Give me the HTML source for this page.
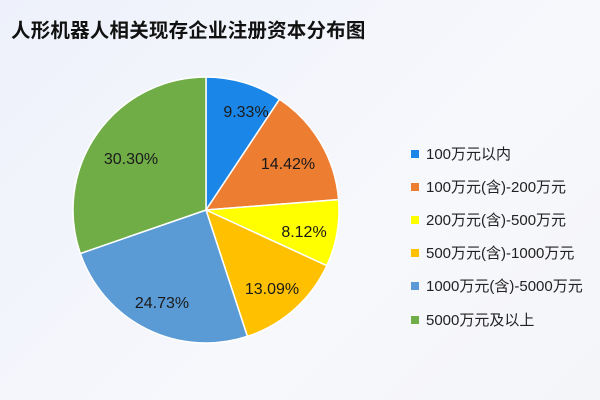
<!DOCTYPE html>
<html><head><meta charset="utf-8"><style>
body{margin:0;width:600px;height:400px;overflow:hidden;background:linear-gradient(135deg,#eef1fb,#f7f8fc 60%,#f4f5f8);font-family:"Liberation Sans","Noto Sans CJK SC",sans-serif;}
.t{position:absolute;left:11px;top:14px;font-size:19.5px;font-weight:bold;color:#111;letter-spacing:0.2px}
.lg{position:absolute;left:411px;font-size:15px;color:#222;line-height:16px}
.lg i{display:inline-block;width:8px;height:8px;margin-right:7px;vertical-align:1px}
</style></head><body>
<div class="t">人形机器人相关现存企业注册资本分布图</div>
<svg width="600" height="400" style="position:absolute;left:0;top:0" id="s">
<g id="p"></g>
<g font-size="16" fill="#1a1a1a" text-anchor="middle" font-family="Liberation Sans,sans-serif">
<text x="246" y="117">9.33%</text>
<text x="288" y="169">14.42%</text>
<text x="304" y="237">8.12%</text>
<text x="272" y="294">13.09%</text>
<text x="162" y="308">24.73%</text>
<text x="131" y="164">30.30%</text>
</g></svg>
<div class="lg" style="top:147px"><i style="background:#1a87e8"></i>100万元以内</div>
<div class="lg" style="top:180px"><i style="background:#ed7d31"></i>100万元(含)-200万元</div>
<div class="lg" style="top:213px"><i style="background:#ffff00"></i>200万元(含)-500万元</div>
<div class="lg" style="top:246px"><i style="background:#ffc000"></i>500万元(含)-1000万元</div>
<div class="lg" style="top:279px"><i style="background:#5b9bd5"></i>1000万元(含)-5000万元</div>
<div class="lg" style="top:313px"><i style="background:#70ad47"></i>5000万元及以上</div>
<script>
var v=[9.33,14.42,8.12,13.09,24.73,30.30],c=["#1a87e8","#ed7d31","#ffff00","#ffc000","#5b9bd5","#70ad47"];
var cx=206,cy=210,r=133,a=0,s="",t=v.reduce(function(x,y){return x+y},0);
for(var i=0;i<6;i++){var b=a+v[i]/t*2*Math.PI;
var x1=cx+r*Math.sin(a),y1=cy-r*Math.cos(a),x2=cx+r*Math.sin(b),y2=cy-r*Math.cos(b);
s+='<path d="M'+cx+' '+cy+'L'+x1+' '+y1+'A'+r+' '+r+' 0 '+((b-a)>Math.PI?1:0)+' 1 '+x2+' '+y2+'Z" fill="'+c[i]+'" stroke="#fff" stroke-width="1.5"/>';a=b;}
document.getElementById("p").innerHTML=s;
</script>
</body></html>
